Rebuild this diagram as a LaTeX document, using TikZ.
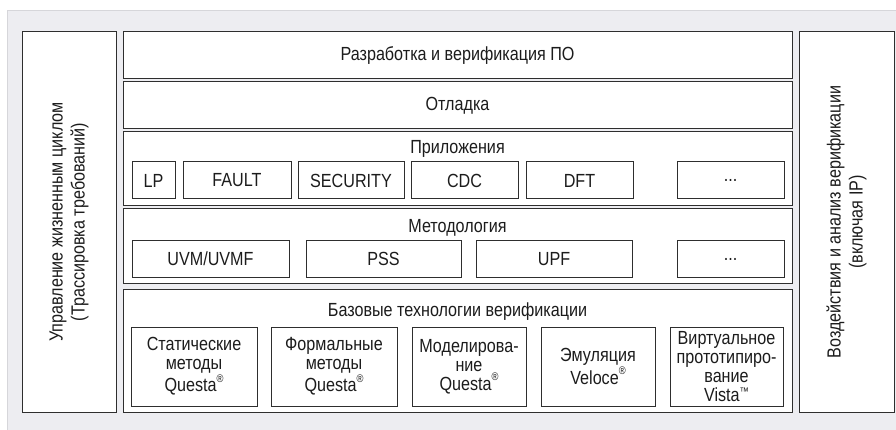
\documentclass[tikz,border=0pt]{standalone}
\usepackage{fontspec}
\setmainfont{Liberation Sans}[FakeStretch=0.85]
\usetikzlibrary{calc}
\definecolor{panel}{HTML}{EDEDF1}
\definecolor{paneledge}{HTML}{D6D6DA}
\definecolor{edge}{HTML}{2E2E2E}
\definecolor{ink}{HTML}{1C1C1C}
\newcommand\lblfont{\fontsize{19}{19}\selectfont}
\newcommand\sidefont{\fontsize{19}{22}\selectfont}
\newcommand\reg{\raisebox{0.5em}{\fontsize{11}{11}\selectfont ®}}
\newcommand\tmark{\smash{\raisebox{0.3em}{\fontsize{11}{11}\selectfont ™}}}
% \blk{name}{x1}{y1}{x2}{y2}{text}: a framed block given by its corners (pixels, y down)
\newcommand\blk[6]{%
  \node[blockbox, minimum width={(#4-#2)*1pt}, minimum height={(#5-#3)*1pt}]
    (#1) at ({(#2+#4)/2},{(#3+#5)/2}) {#6};}
\tikzset{
  blockbox/.style={draw=edge, fill=white, line width=1pt, inner sep=0pt,
    align=center, text=ink, font=\lblfont},
  caption/.style={inner sep=0pt, align=center, text=ink, font=\lblfont},
  sidecaption/.style={inner sep=0pt, align=center, text=ink, font=\sidefont, rotate=90},
}
\begin{document}
\begin{tikzpicture}[x=1pt, y=-1pt]
\useasboundingbox (0,0) rectangle (896,430);
% background panel
\fill[white] (0,0) rectangle (896,430);
\draw[paneledge, fill=panel, line width=1.5pt] (7.5,10.5) rectangle (905,440);

% side columns
\blk{life}{22}{32}{116}{412}{}
\blk{stim}{799}{32}{894}{412}{}
\node[sidecaption] (lifetxt) at (life.center)
  {Управление жизненным циклом\\(Трассировка требований)};
\node[sidecaption] (stimtxt) at (stim.center)
  {Воздействия и анализ верификации\\(включая IP)};

% main stack
\blk{sw}{123}{32}{792}{79}{Разработка и верификация ПО}
\blk{dbg}{123}{82}{792}{129}{Отладка}
\blk{apps}{123}{132}{792}{206}{}
\blk{meth}{123}{209}{792}{283}{}
\blk{base}{123}{289}{792}{412}{}

% applications
\node[caption] (appst) at (457.5,149) {Приложения};
\blk{lp}{132}{162}{175}{199}{LP}
\blk{fault}{183}{162}{291}{199}{FAULT}
\blk{sec}{298}{162}{404}{199}{SECURITY}
\blk{cdc}{411}{162}{518}{199}{CDC}
\blk{dft}{526}{162}{633}{199}{DFT}
\blk{appx}{677}{162}{784}{199}{...}

% methodology
\node[caption] (metht) at (457.5,228) {Методология};
\blk{uvm}{132}{241}{289}{277}{UVM/UVMF}
\blk{pss}{306}{241}{461}{277}{PSS}
\blk{upf}{476}{241}{632}{277}{UPF}
\blk{methx}{677}{241}{784}{277}{...}

% core technologies
\node[caption] (baset) at (457.5,312) {Базовые технологии верификации};
\blk{stat}{131}{327}{257}{406}{Статические\\методы\\Questa\reg}
\blk{form}{271}{327}{397}{406}{Формальные\\методы\\Questa\reg}
\blk{sim}{412}{327}{526}{406}{Моделирова-\\ние\\Questa\reg}
\blk{emu}{541}{327}{655}{406}{Эмуляция\\Veloce\reg}
\blk{vp}{670}{327}{783}{406}{Виртуальное\\прототипиро-\\вание\\Vista\tmark}
\end{tikzpicture}
\end{document}
